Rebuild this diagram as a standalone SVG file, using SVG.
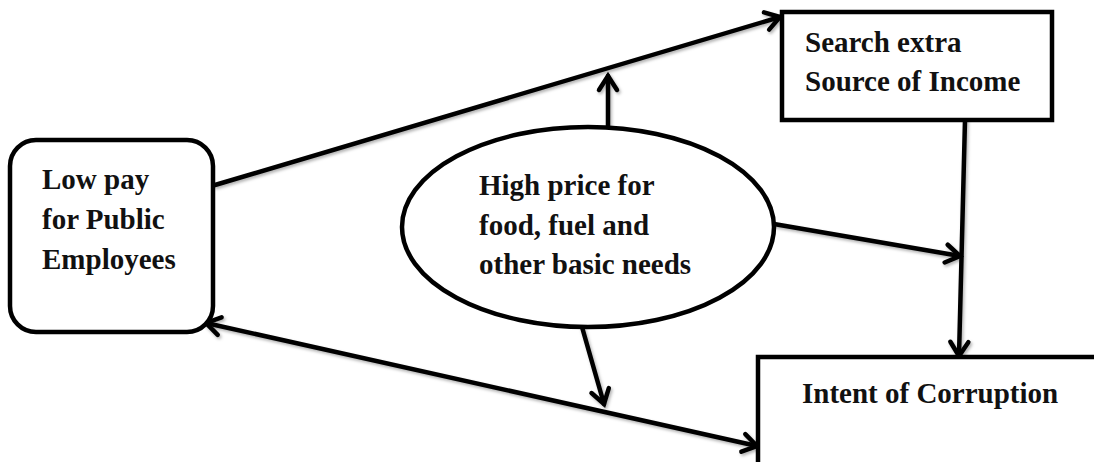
<svg xmlns="http://www.w3.org/2000/svg" width="1094" height="462" viewBox="0 0 1094 462">
<defs>
<style>
.node{fill:#fff;stroke:#000;stroke-width:4.5}
.lbl{font-family:"Liberation Serif","Times New Roman",serif;font-weight:bold;font-size:29px;fill:#111}
.edge{fill:none;stroke:#000;stroke-width:4.5;stroke-linecap:round}
</style>
<marker id="arr" markerUnits="userSpaceOnUse" markerWidth="30" markerHeight="30" viewBox="-20 -15 30 30" refX="0" refY="0" orient="auto-start-reverse">
<path d="M -14 -9 L 0 0 L -14 9" fill="none" stroke="#000" stroke-width="4.5" stroke-linecap="round" stroke-linejoin="miter"/>
</marker>
<filter id="sh" x="-10%" y="-10%" width="120%" height="120%">
<feDropShadow dx="1.5" dy="2" stdDeviation="1.5" flood-color="#000" flood-opacity="0.3"/>
</filter>
</defs>
<rect width="1094" height="462" fill="#fff"/>
<g id="connectors" filter="url(#sh)">
<line class="edge" x1="215" y1="185" x2="780" y2="17" marker-end="url(#arr)"/>
<line class="edge" x1="608" y1="127" x2="608" y2="76" marker-end="url(#arr)"/>
<line class="edge" x1="774" y1="224" x2="960" y2="256" marker-end="url(#arr)"/>
<line class="edge" x1="965" y1="120" x2="959" y2="356" marker-end="url(#arr)"/>
<line class="edge" x1="582" y1="327" x2="604" y2="404" marker-end="url(#arr)"/>
<line class="edge" x1="206" y1="323" x2="757" y2="446" marker-start="url(#arr)" marker-end="url(#arr)"/>
</g>
<g id="low-pay">
<rect class="node" x="10" y="140" width="203" height="192" rx="26"/>
<text class="lbl" x="42" y="189">Low pay</text>
<text class="lbl" x="42" y="229">for Public</text>
<text class="lbl" x="42" y="269">Employees</text>
</g>
<g id="search-income">
<rect class="node" x="782" y="12" width="270" height="108"/>
<text class="lbl" x="805" y="52">Search extra</text>
<text class="lbl" x="805" y="91">Source of Income</text>
</g>
<g id="high-price">
<ellipse class="node" cx="588" cy="227" rx="186" ry="100"/>
<text class="lbl" x="479" y="195">High price for</text>
<text class="lbl" x="479" y="235">food, fuel and</text>
<text class="lbl" x="479" y="274">other basic needs</text>
</g>
<g id="intent-corruption">
<rect class="node" x="758" y="357" width="345" height="120"/>
<text class="lbl" x="802" y="403">Intent of Corruption</text>
</g>
</svg>
